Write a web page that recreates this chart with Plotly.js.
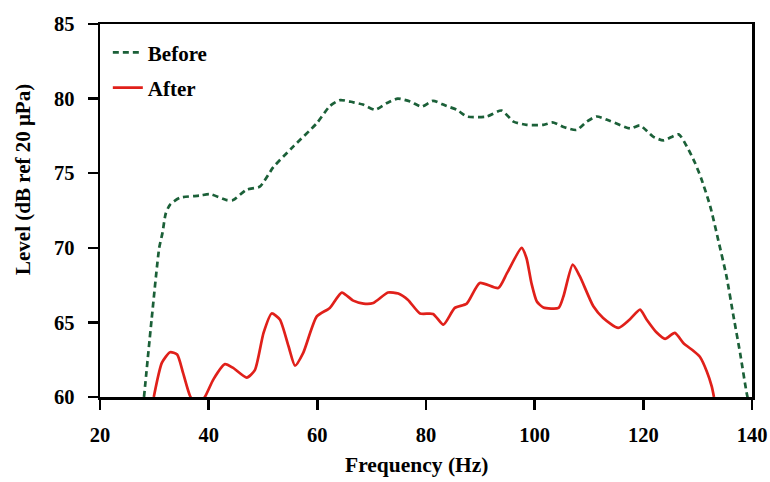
<!DOCTYPE html>
<html>
<head>
<meta charset="utf-8">
<script src="https://cdn.plot.ly/plotly-3.0.1.min.js"></script>
<style>html,body{margin:0;padding:0;background:#fff;}#chart{width:770px;height:482px;}</style>
</head>
<body>
<div id="chart"></div>
<script>
// Before (dashed green)
const beforeFreq = [28.1, 29.5, 30.9, 31.5, 32.1, 32.9, 34.7, 38.4, 40.2, 43.3, 44.5, 47.0, 49.4, 51.9, 55.6, 59.9, 62.3, 64.2, 66.6, 68.4, 70.6, 72.8, 74.8, 77.1, 79.2, 81.3, 83.8, 85.7, 87.5, 91.2, 93.9, 96.1, 98.5, 101.6, 103.4, 105.3, 107.7, 109.6, 111.4, 113.9, 117.6, 119.4, 121.8, 123.7, 126.5, 128.0, 129.5, 130.7, 132.3, 133.8, 135.3, 136.6, 137.8, 139.0, 139.3];
const beforeLevel = [60.0, 65.2, 70.0, 71.0, 72.3, 72.9, 73.35, 73.5, 73.6, 73.2, 73.2, 73.9, 74.1, 75.4, 76.8, 78.35, 79.5, 79.9, 79.75, 79.6, 79.25, 79.7, 80.0, 79.8, 79.46, 79.85, 79.5, 79.25, 78.8, 78.8, 79.2, 78.46, 78.24, 78.24, 78.4, 78.1, 77.9, 78.46, 78.8, 78.5, 78.0, 78.2, 77.45, 77.2, 77.6, 76.8, 75.7, 74.6, 72.8, 70.5, 68.1, 65.4, 62.96, 60.3, 59.8];
// After (solid red)
const afterFreq = [29.9, 31.4, 32.9, 34.2, 35.3, 36.6, 38.0, 39.3, 40.9, 43.0, 44.5, 47.0, 48.5, 50.1, 51.6, 53.1, 54.7, 55.9, 57.4, 59.9, 62.3, 64.5, 66.6, 68.5, 70.3, 73.0, 74.9, 76.7, 78.9, 81.3, 83.2, 85.3, 87.5, 89.9, 93.3, 94.9, 97.6, 98.5, 99.4, 100.4, 101.6, 104.4, 105.3, 107.0, 108.3, 110.8, 112.6, 115.4, 117.5, 119.4, 120.6, 122.5, 124.0, 125.8, 127.4, 129.2, 130.4, 131.7, 132.6, 133.0];
const afterLevel = [60.0, 62.3, 63.0, 62.85, 61.6, 60.05, 59.4, 60.0, 61.2, 62.2, 61.95, 61.3, 61.8, 64.3, 65.6, 65.2, 63.4, 62.1, 62.96, 65.4, 65.97, 67.0, 66.46, 66.26, 66.3, 67.0, 66.93, 66.5, 65.6, 65.57, 64.85, 65.97, 66.26, 67.64, 67.3, 68.3, 69.99, 69.3, 67.64, 66.4, 66.0, 65.97, 66.75, 68.87, 68.1, 66.08, 65.3, 64.63, 65.2, 65.86, 65.2, 64.3, 63.9, 64.3, 63.6, 63.1, 62.7, 61.7, 60.7, 60.0];

const xTicks = [20, 40, 60, 80, 100, 120, 140];
const yTicks = [60, 65, 70, 75, 80, 85];
const seriesNames = ["Before", "After"];

const FONT = "Liberation Serif, Times New Roman, serif";

const traces = [
  {x: beforeFreq, y: beforeLevel, name: seriesNames[0], type: 'scatter', mode: 'lines',
   legendgroup: 'a',
   line: {color: '#1b6038', width: 2.7, dash: '6px,4px', shape: 'spline', smoothing: 0.6}},
  {x: afterFreq, y: afterLevel, name: seriesNames[1], type: 'scatter', mode: 'lines',
   legendgroup: 'b',
   line: {color: '#e0201a', width: 2.7, shape: 'spline', smoothing: 0.6}}
];

const axisCommon = {
  showline: true, linecolor: '#000', linewidth: 2.5, mirror: true,
  ticks: 'outside', ticklen: 10, tickwidth: 2.5, tickcolor: '#000',
  showgrid: false, zeroline: false,
  tickfont: {family: FONT, size: 20.5, color: '#000', weight: 'bold'}
};

const layout = {
  width: 770, height: 482,
  paper_bgcolor: '#fff', plot_bgcolor: '#fff',
  margin: {l: 100, r: 18, t: 24, b: 84.5},
  showlegend: true,
  legend: {x: 0.012, y: 0.978, xanchor: 'left', yanchor: 'top', bgcolor: 'rgba(0,0,0,0)',
           traceorder: 'grouped', tracegroupgap: 5, itemwidth: 30,
           font: {family: FONT, size: 21, color: '#000', weight: 'bold'}},
  xaxis: Object.assign({}, axisCommon, {range: [20, 140], tickvals: xTicks, ticktext: xTicks.map(String), ticklabelstandoff: 8}),
  yaxis: Object.assign({}, axisCommon, {range: [60, 85], tickvals: yTicks, ticktext: yTicks.map(String), ticklabelstandoff: 9}),
  annotations: [
    {text: 'Level (dB ref 20 μPa)', xref: 'paper', yref: 'paper', x: -0.118, y: 0.582,
     textangle: -90, showarrow: false, xanchor: 'center', yanchor: 'middle',
     font: {family: FONT, size: 21, color: '#000', weight: 'bold'}},
    {text: 'Frequency (Hz)', xref: 'paper', yref: 'paper', x: 0.486, y: -0.183,
     showarrow: false, xanchor: 'center', yanchor: 'middle',
     font: {family: FONT, size: 21.5, color: '#000', weight: 'bold'}}
  ]
};

Plotly.newPlot('chart', traces, layout, {displayModeBar: false, staticPlot: true});
</script>
</body>
</html>
